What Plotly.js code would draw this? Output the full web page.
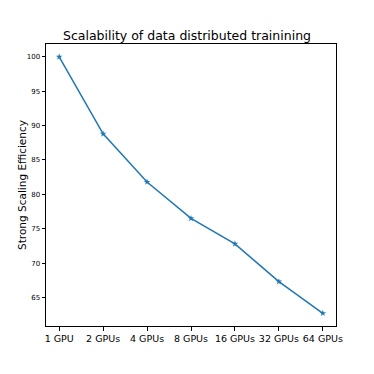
<!DOCTYPE html>
<html><head><meta charset="utf-8">
<script src="https://cdn.plot.ly/plotly-3.0.1.min.js"></script>
<style>html,body{margin:0;padding:0;background:#fff}</style>
</head><body>
<div id="chart" style="width:374px;height:374px"></div>
<script>
const categories = ["1 GPU","2 GPUs","4 GPUs","8 GPUs","16 GPUs","32 GPUs","64 GPUs"];
const efficiency = [100, 88.8, 81.8, 76.5, 72.8, 67.3, 62.7];
const yTicks = [65,70,75,80,85,90,95,100];

const trace = {
  x: categories.map((c,i)=>i), y: efficiency, type:'scatter', mode:'lines+markers',
  line:{color:'#1f77b4', width:1.5},
  marker:{symbol:'star', size:5, color:'#1f77b4'}
};
const layout = {
  width:374, height:374,
  margin:{l:46, r:38, t:44, b:48},
  paper_bgcolor:'#fff', plot_bgcolor:'#fff',
  showlegend:false,
  font:{family:'DejaVu Sans', color:'#000'},
  title:{text:'Scalability of data distributed trainining', font:{size:12.5, color:'#000'}, x:0.5, xanchor:'center', y:0.905, yanchor:'middle', yref:'container'},
  xaxis:{range:[-0.3,6.3], tickvals:categories.map((c,i)=>i), ticktext:categories, tickangle:0,
    showgrid:false, zeroline:false, showline:true, linecolor:'#000', linewidth:1, mirror:true,
    ticks:'outside', ticklen:3.5, tickcolor:'#000', tickfont:{size:9.5}},
  yaxis:{range:[60.85,101.87], tickvals:yTicks,
    showgrid:false, zeroline:false, showline:true, linecolor:'#000', linewidth:1, mirror:true,
    ticks:'outside', ticklen:3.5, tickcolor:'#000', tickfont:{size:7}},
  annotations:[{text:'Strong Scaling Efficiency', textangle:-90, xref:'paper', yref:'paper',
    x:-0.083, y:0.5, xanchor:'center', yanchor:'middle', showarrow:false, font:{size:10.5, color:'#000'}}]
};
Plotly.newPlot('chart',[trace],layout,{displayModeBar:false,staticPlot:true});
</script>
</body></html>
